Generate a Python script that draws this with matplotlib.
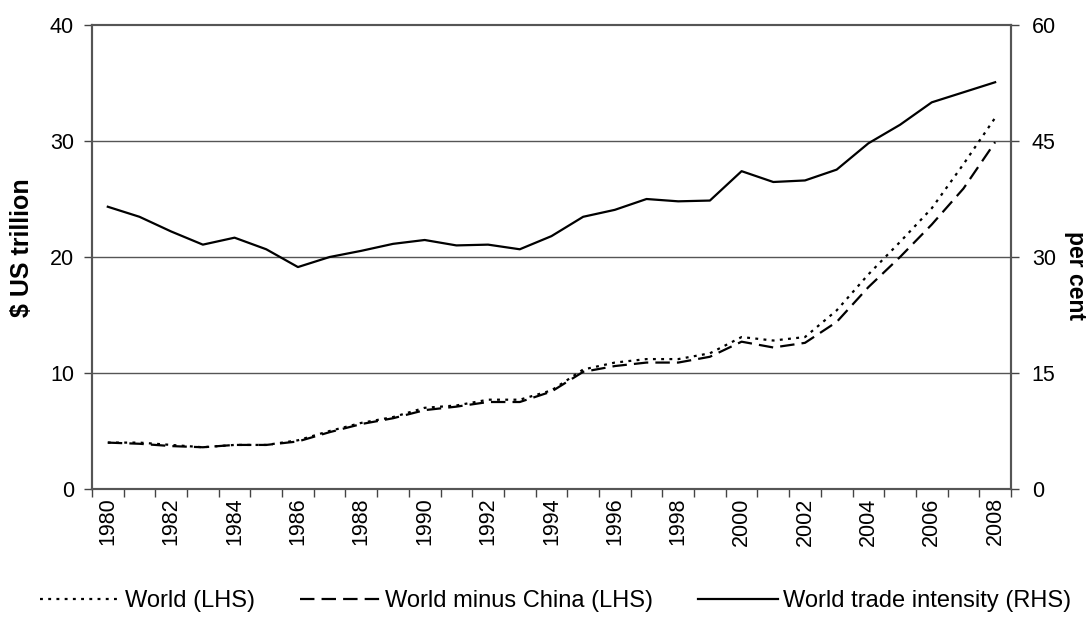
import matplotlib
matplotlib.use("Agg")
import matplotlib.pyplot as plt
import numpy as np

plt.rcParams['font.family'] = ['Liberation Sans', 'DejaVu Sans']

years = list(range(1980, 2009))
world = [4.0, 4.0, 3.8, 3.6, 3.8, 3.8, 4.2, 5.0, 5.7, 6.2, 7.0, 7.2, 7.7, 7.7, 8.5,
         10.3, 10.9, 11.2, 11.2, 11.7, 13.1, 12.8, 13.1, 15.4, 18.5, 21.3, 24.2, 28.0, 32.0]
world_ex_china = [4.0, 3.9, 3.7, 3.6, 3.8, 3.8, 4.1, 4.9, 5.6, 6.1, 6.8, 7.1, 7.5, 7.5, 8.4,
                  10.1, 10.6, 10.9, 10.9, 11.4, 12.7, 12.2, 12.6, 14.4, 17.4, 20.0, 22.8, 25.9, 29.9]
trade_intensity = [36.5, 35.2, 33.3, 31.6, 32.5, 31.0, 28.7, 30.0, 30.8, 31.7, 32.2, 31.5, 31.6, 31.0, 32.7,
                   35.2, 36.1, 37.5, 37.2, 37.3, 41.1, 39.7, 39.9, 41.3, 44.7, 47.1, 50.0, 51.3, 52.6]
ylabel_left = "$ US trillion"
ylabel_right = "per cent"
labels = ["World (LHS)", "World minus China (LHS)", "World trade intensity (RHS)"]

fig = plt.figure(figsize=(10.92, 6.19), dpi=100)
ax = fig.add_axes([0.0842, 0.21, 0.8416, 0.7496])
ax2 = ax.twinx()

x = np.arange(len(years))
fs = 15.5

l1, = ax.plot(x, world, color='black', lw=1.6, linestyle=(0, (1.3, 2.4)))
l2, = ax.plot(x, world_ex_china, color='black', lw=1.6, linestyle=(0, (6.5, 3.2)))
l3, = ax2.plot(x, trade_intensity, color='black', lw=1.6)

ax.set_xlim(-0.5, len(years) - 0.5)
ax.set_ylim(0, 40)
ax2.set_ylim(0, 60)
ax.set_yticks([0, 10, 20, 30, 40])
ax2.set_yticks([0, 15, 30, 45, 60])
for yv in [10, 20, 30]:
    ax.axhline(yv, color='#555555', lw=1.0, zorder=0)

ax.set_xticks(np.arange(-0.5, len(years), 1.0))
ax.set_xticklabels([])
ax.set_xticks(x[::2], minor=True)
ax.set_xticklabels([str(y) for y in years[::2]], minor=True, rotation=90, fontsize=fs)
ax.tick_params(axis='x', which='major', direction='out', length=6, width=1, color='#444444')
ax.tick_params(axis='x', which='minor', length=0, pad=6)
ax.tick_params(axis='y', direction='out', length=6, width=1, color='#444444', labelsize=fs, pad=7)
ax2.tick_params(axis='y', direction='out', length=6, width=1, color='#444444', labelsize=fs, pad=9)

for a in (ax, ax2):
    for s in a.spines.values():
        s.set_color('#555555')
        s.set_linewidth(1.5)
ax.spines['top'].set_color('#888888')

ax.set_ylabel(ylabel_left, fontsize=18, fontweight='bold', va='center')
ax.yaxis.set_label_coords(-0.076, 0.52)
ax2.set_ylabel(ylabel_right, fontsize=16.5, fontweight='bold', rotation=270, va='center')
ax2.yaxis.set_label_coords(1.07, 0.46)

fig.legend([l1, l2, l3], labels, loc='center', bbox_to_anchor=(0.509, 0.029), ncol=3,
           frameon=False, fontsize=17, handlelength=3.4, handletextpad=0.2, columnspacing=1.9,
           borderaxespad=0, borderpad=0)

fig.savefig("out.png", dpi=100)
